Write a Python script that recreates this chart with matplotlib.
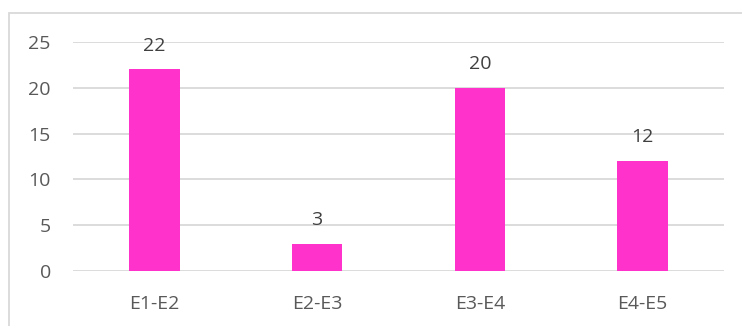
import matplotlib
matplotlib.use("Agg")
import matplotlib.pyplot as plt
from matplotlib.patches import Rectangle

categories = ["E1-E2", "E2-E3", "E3-E4", "E4-E5"]
values = [22, 3, 20, 12]
yticks = [0, 5, 10, 15, 20, 25]

plt.rcParams['font.family'] = ['Open Sans', 'DejaVu Sans']
txt = '#595959'

fig = plt.figure(figsize=(7.42, 3.26), dpi=100)
ax = fig.add_axes([73/742, 1-271/326, (724-73)/742, (271-42)/326])

x = list(range(len(categories)))
ax.bar(x, values, width=0.31, color='#FF33CC', zorder=3)
ax.set_xlim(-0.5, len(categories)-0.5)
ax.set_ylim(0, 25)
ax.set_yticks(yticks)
ax.set_xticks(x)
ax.set_xticklabels(categories)
ax.grid(axis='y', color='#D9D9D9', linewidth=1.3, zorder=0)
for s in ax.spines.values():
    s.set_visible(False)
ax.tick_params(axis='both', length=0, colors=txt, labelsize=14)
ax.tick_params(axis='y', pad=16)
ax.tick_params(axis='x', pad=17)

for xi, v in zip(x, values):
    ax.annotate(str(v), (xi, v), xytext=(0, 10.5), textcoords='offset points',
                ha='center', va='bottom', color='#404040', fontsize=14)

fig.patches.append(Rectangle((9/742, -0.1), 1.2, 1 - 13/326 + 0.1,
                             transform=fig.transFigure, fill=False,
                             edgecolor='#D9D9D9', linewidth=1.3))

fig.savefig('out.png', dpi=100)
